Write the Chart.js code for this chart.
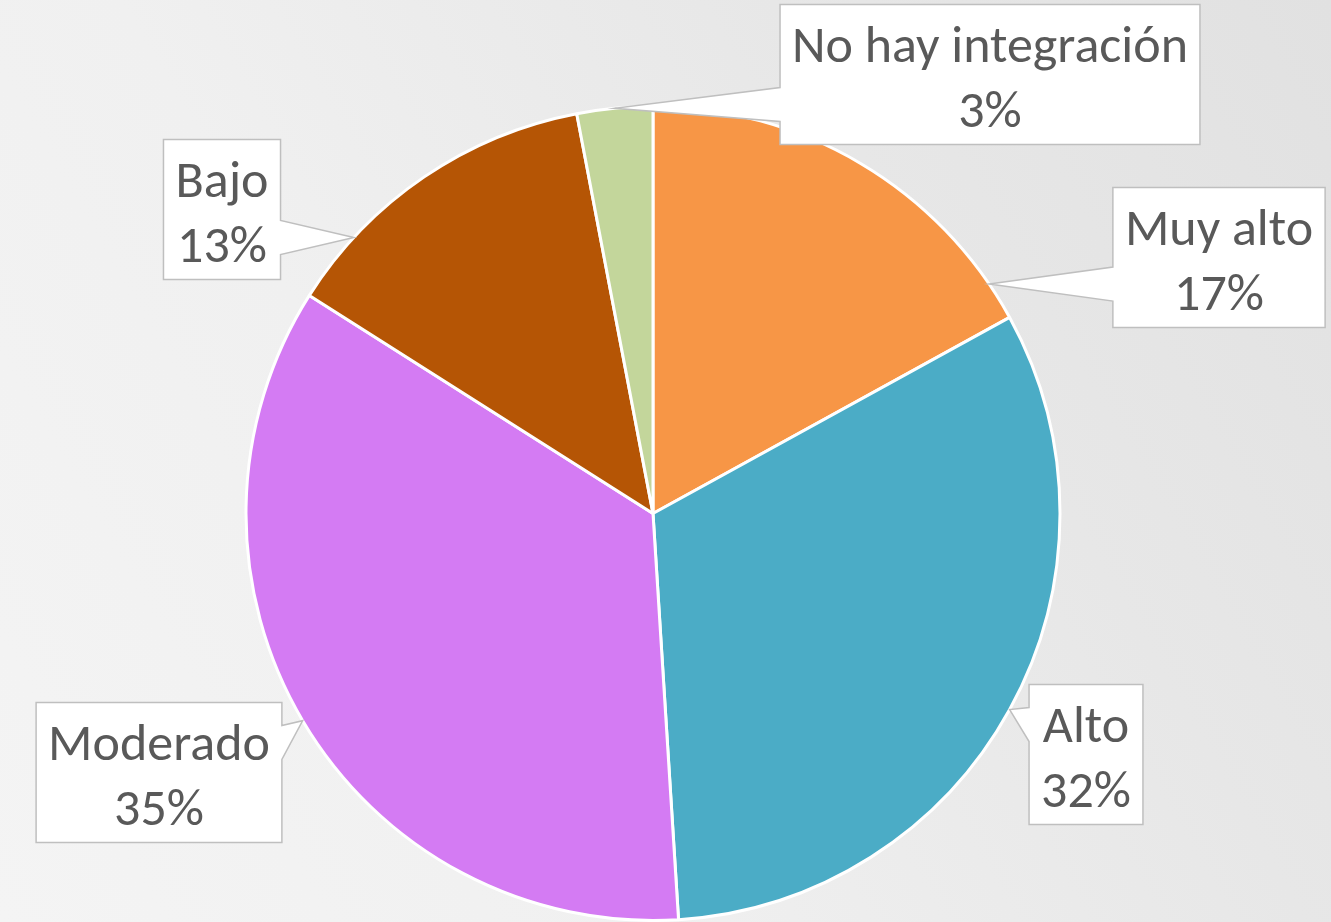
<!DOCTYPE html>
<html>
<head>
<meta charset="utf-8">
<script src="https://cdn.jsdelivr.net/npm/chart.js@4/dist/chart.umd.min.js"></script>
<style>
  html, body { margin: 0; padding: 0; }
  body {
    width: 1331px; height: 922px; overflow: hidden;
    background: linear-gradient(60deg, #f4f4f4 0%, #f0f0f0 35%, #e7e7e7 70%, #e1e1e1 100%);
  }
  canvas { display: block; }
</style>
</head>
<body>
<canvas id="pie" width="1331" height="922"></canvas>
<script>
// datos
const labels = ['Muy alto', 'Alto', 'Moderado', 'Bajo', 'No hay integración'];
const values = [17, 32, 35, 13, 3];
const colors = ['#F79646', '#4BACC6', '#D47BF3', '#B55505', '#C3D69B'];

// posición de las etiquetas (centro de la caja respecto al centro del pastel)
const boxOffsets = [[566, -256], [433, 241], [-494, 259], [-431, -304], [337, -439]];
const anchorFrac = [0.91, 0.5, 0.5, 0.22, 0.5];

const calloutPlugin = {
    id: 'callouts',
    afterDatasetsDraw(chart) {
        const ctx = chart.ctx;
        const meta = chart.getDatasetMeta(0);
        ctx.save();
        ctx.font = '52px Carlito, Calibri, Lato, sans-serif';
        meta.data.forEach((arc, i) => {
            const p = arc.getProps(['x', 'y', 'startAngle', 'endAngle', 'outerRadius'], true);
            const ang = p.startAngle + (p.endAngle - p.startAngle) * anchorFrac[i];
            const ax = p.x + Math.cos(ang) * p.outerRadius;
            const ay = p.y + Math.sin(ang) * p.outerRadius;

            const line1 = labels[i];
            const line2 = values[i] + '%';
            const tw = Math.max(ctx.measureText(line1).width, ctx.measureText(line2).width);
            const w = tw + 24, h = 140;
            const cx = p.x + boxOffsets[i][0], cy = p.y + boxOffsets[i][1];
            const left = cx - w / 2, right = cx + w / 2, top = cy - h / 2, bottom = cy + h / 2;
            const by = Math.min(Math.max(ay, top + 40), bottom - 40);
            const side = ax < left ? 'left' : (ax > right ? 'right' : 'none');

            ctx.beginPath();
            ctx.moveTo(left, top);
            ctx.lineTo(right, top);
            if (side === 'right') {
                ctx.lineTo(right, by - 17);
                ctx.lineTo(ax, ay);
                ctx.lineTo(right, by + 17);
            }
            ctx.lineTo(right, bottom);
            ctx.lineTo(left, bottom);
            if (side === 'left') {
                ctx.lineTo(left, by + 17);
                ctx.lineTo(ax, ay);
                ctx.lineTo(left, by - 17);
            }
            ctx.closePath();
            ctx.fillStyle = '#ffffff';
            ctx.fill();
            ctx.strokeStyle = '#bfbfbf';
            ctx.lineWidth = 1.5;
            ctx.stroke();

            ctx.fillStyle = '#595959';
            ctx.textAlign = 'center';
            ctx.textBaseline = 'alphabetic';
            ctx.fillText(line1, cx, top + 57);
            ctx.fillText(line2, cx, top + 122);
        });
        ctx.restore();
    }
};

new Chart(document.getElementById('pie'), {
    type: 'pie',
    data: {
        labels: labels,
        datasets: [{
            data: values,
            backgroundColor: colors,
            borderColor: '#ffffff',
            borderWidth: 3
        }]
    },
    options: {
        responsive: false,
        animation: false,
        layout: { padding: { left: 243, right: 268, top: 105, bottom: -3 } },
        plugins: { legend: { display: false }, tooltip: { enabled: false } }
    },
    plugins: [calloutPlugin]
});
</script>
</body>
</html>
